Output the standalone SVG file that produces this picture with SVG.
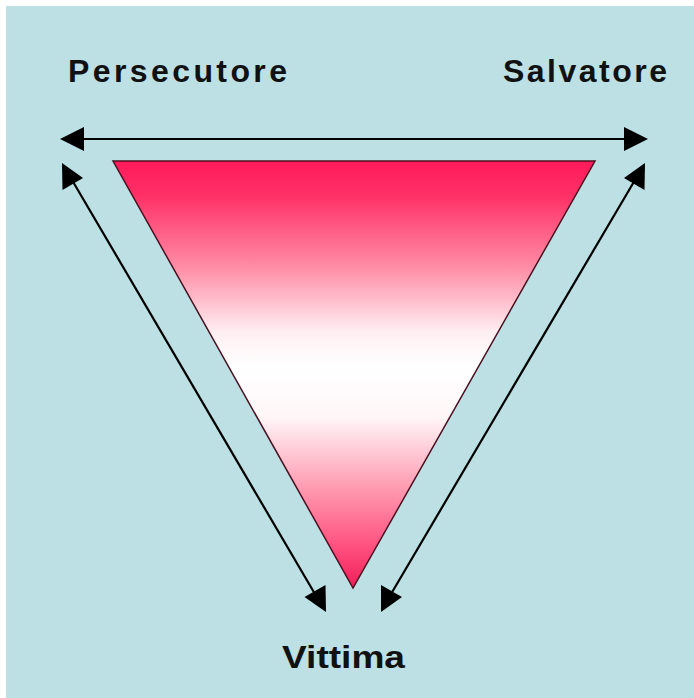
<svg xmlns="http://www.w3.org/2000/svg" width="694" height="698" viewBox="0 0 694 698">
<defs>
<linearGradient id="g" x1="0" y1="0" x2="0" y2="1">
<stop offset="0" stop-color="#FF1A5A"/>
<stop offset="0.08" stop-color="#FF3066"/>
<stop offset="0.25" stop-color="#FF8DA6"/>
<stop offset="0.4" stop-color="#FFEEF2"/>
<stop offset="0.48" stop-color="#FFFFFF"/>
<stop offset="0.6" stop-color="#FFF6F8"/>
<stop offset="0.75" stop-color="#FFA3B7"/>
<stop offset="0.9" stop-color="#FF5280"/>
<stop offset="1" stop-color="#F01E58"/>
</linearGradient>
<style>
.lbl{font-family:"Liberation Sans",Arial,sans-serif;font-weight:bold;font-size:32px;fill:#111;}
.con{stroke:#000;stroke-width:2.2;fill:none;}
.hd{fill:#000;}
</style>
</defs>
<rect x="0" y="0" width="694" height="698" fill="#fff"/>
<rect x="6" y="6" width="688" height="692" fill="#BCE0E3"/>
<g id="triangle">
<polygon points="113,161 595,161 353,588" fill="url(#g)" stroke="#4a1020" stroke-width="1.5"/>
</g>
<g id="persecutore"><text class="lbl" x="68" y="82" textLength="219" lengthAdjust="spacing">Persecutore</text></g>
<g id="salvatore"><text class="lbl" x="503" y="82" textLength="164" lengthAdjust="spacing">Salvatore</text></g>
<g id="vittima"><text class="lbl" x="282" y="668" textLength="123" lengthAdjust="spacingAndGlyphs">Vittima</text></g>
<g id="connectors">
<line class="con" x1="80" y1="139" x2="628" y2="139"/>
<polygon class="hd" points="60,139 84,127 84,151"/>
<polygon class="hd" points="648,139 624,127 624,151"/>
<line class="con" x1="72" y1="180" x2="315" y2="594"/>
<polygon class="hd" points="62,163 62.5,190 83,178"/>
<polygon class="hd" points="326,612 304.5,597 325.5,585"/>
<line class="con" x1="635" y1="180" x2="391" y2="594"/>
<polygon class="hd" points="645,163 644.5,190 624,178"/>
<polygon class="hd" points="381,612 402,597 381,585"/>
</g>
</svg>
